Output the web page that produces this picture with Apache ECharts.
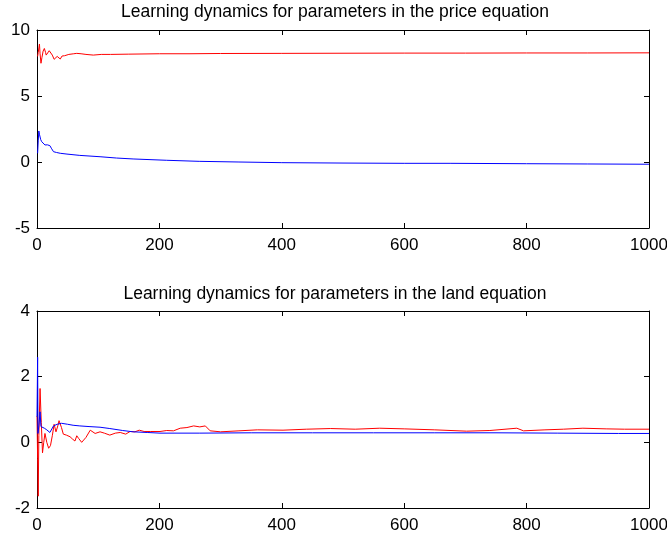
<!DOCTYPE html>
<html>
<head>
<meta charset="utf-8">
<script src="https://cdn.jsdelivr.net/npm/echarts@6/dist/echarts.min.js"></script>
<style>html,body{margin:0;padding:0;background:#fff}#c{width:667px;height:537px}</style>
</head>
<body>
<div id="c"></div>
<script>
const titles = ['Learning dynamics for parameters in the price equation', 'Learning dynamics for parameters in the land equation'];
const xTicks = [0, 200, 400, 600, 800, 1000];
const yTicksTop = [-5, 0, 5, 10];
const yTicksBottom = [-2, 0, 2, 4];

// Top panel (price equation)
const priceRedX = [1, 2, 4, 5, 6.5, 8, 10, 12, 14, 15, 17, 20, 22, 25, 28, 30, 33, 36, 38, 41, 45, 48, 52, 55, 60, 65, 72, 80, 92, 105, 120, 150, 200, 250, 300, 400, 500, 600, 700, 800, 900, 1000];
const priceRedY = [8.0, 8.3, 8.94, 8.2, 7.48, 7.9, 8.4, 8.6, 8.3, 8.1, 8.2, 8.43, 8.4, 8.1, 7.78, 7.85, 8.0, 7.85, 7.8, 8.03, 8.05, 8.1, 8.15, 8.12, 8.2, 8.23, 8.2, 8.15, 8.1, 8.15, 8.15, 8.17, 8.2, 8.2, 8.22, 8.23, 8.24, 8.25, 8.25, 8.26, 8.26, 8.27];
const priceBlueX = [1, 2, 3, 4, 6, 7.7, 10, 13, 17, 21, 24, 27, 32, 38, 49, 70, 103, 130, 157, 212, 265, 330, 400, 500, 600, 675, 800, 900, 1000];
const priceBlueY = [0.66, 1.6, 2.35, 2.1, 1.7, 1.54, 1.4, 1.29, 1.3, 1.24, 1.0, 0.78, 0.72, 0.66, 0.6, 0.5, 0.4, 0.3, 0.23, 0.13, 0.05, 0.0, -0.05, -0.08, -0.1, -0.1, -0.13, -0.15, -0.17];

// Bottom panel (land equation)
const landRedX = [0, 1, 2, 3, 5, 7, 9, 11, 13, 16, 19, 22, 25, 28, 31, 34, 36, 40, 43, 48, 54, 58, 62, 65, 68, 73, 80, 87, 95, 103, 110, 119, 128, 136, 145, 152, 160, 167, 175, 185, 201, 212, 223, 234, 245, 256, 266, 275, 283, 300, 330, 360, 402, 440, 480, 520, 560, 600, 650, 702, 740, 784, 795, 830, 860, 892, 930, 960, 1000];
const landRedY = [0.8, -0.5, -1.64, 0.2, 1.64, 0.6, -0.32, 0.0, 0.27, 0.0, -0.18, -0.1, 0.2, 0.55, 0.32, 0.5, 0.66, 0.45, 0.25, 0.22, 0.17, 0.1, 0.04, 0.2, 0.12, 0.0, 0.15, 0.37, 0.27, 0.32, 0.28, 0.22, 0.28, 0.3, 0.25, 0.33, 0.32, 0.37, 0.33, 0.33, 0.33, 0.36, 0.35, 0.43, 0.45, 0.5, 0.47, 0.5, 0.35, 0.32, 0.35, 0.38, 0.37, 0.4, 0.42, 0.4, 0.43, 0.41, 0.38, 0.34, 0.36, 0.43, 0.35, 0.38, 0.4, 0.43, 0.41, 0.4, 0.4];
const landBlueX = [0, 1, 1.6, 3, 5, 6.5, 9, 12, 16, 21, 24, 27, 33, 40, 50, 59, 70, 85, 103, 119, 140, 157, 180, 201, 266, 350, 450, 550, 650, 750, 850, 950, 1000];
const landBlueY = [0.78, 2.59, 0.27, 0.5, 0.93, 0.48, 0.45, 0.43, 0.38, 0.3, 0.35, 0.5, 0.55, 0.58, 0.55, 0.52, 0.5, 0.48, 0.46, 0.42, 0.36, 0.32, 0.3, 0.28, 0.28, 0.29, 0.29, 0.29, 0.29, 0.29, 0.28, 0.27, 0.27];

const zip = (xs, ys) => xs.map((x, i) => [x, ys[i]]);

const font = 'Liberation Sans, Arial, sans-serif';
const grids = [
  {left: 37, top: 30, right: 18, height: 198, outerBoundsMode: 'none', containLabel: false},
  {left: 37, top: 311, right: 18, height: 197, outerBoundsMode: 'none', containLabel: false}
];
function xAx(g, pos, show) {
  return {type: 'value', gridIndex: g, position: pos, min: xTicks[0], max: xTicks[xTicks.length - 1], interval: xTicks[1] - xTicks[0],
    axisLine: {show: true, onZero: false, lineStyle: {color: '#000', width: 1}},
    axisTick: {show: true, inside: true, length: 5, lineStyle: {color: '#000'}},
    axisLabel: {show: show, color: '#000', fontFamily: font, fontSize: 17, margin: 9, formatter: v => String(v), hideOverlap: false},
    splitLine: {show: false}};
}
function yAx(g, pos, ticks, show) {
  return {type: 'value', gridIndex: g, position: pos, min: ticks[0], max: ticks[ticks.length - 1], interval: ticks[1] - ticks[0],
    axisLine: {show: true, onZero: false, lineStyle: {color: '#000', width: 1}},
    axisTick: {show: true, inside: true, length: 5, lineStyle: {color: '#000'}},
    axisLabel: {show: show, color: '#000', fontFamily: font, fontSize: 17, margin: 7, formatter: v => String(v), hideOverlap: false},
    splitLine: {show: false}};
}
function line(xi, yi, data, color) {
  return {type: 'line', xAxisIndex: xi, yAxisIndex: yi, data: data, showSymbol: false, symbol: 'none',
    lineStyle: {color: color, width: 1}, itemStyle: {color: color}, animation: false};
}
const chart = echarts.init(document.getElementById('c'), null, {renderer: 'canvas'});
chart.setOption({
  backgroundColor: '#fff',
  animation: false,
  title: [
    {text: titles[0], left: 330, top: -2, textAlign: 'center', textStyle: {fontFamily: font, fontWeight: 'normal', fontSize: 17.5, color: '#000'}},
    {text: titles[1], left: 330, top: 280, textAlign: 'center', textStyle: {fontFamily: font, fontWeight: 'normal', fontSize: 17.5, color: '#000'}}
  ],
  grid: grids,
  xAxis: [xAx(0, 'bottom', true), xAx(0, 'top', false), xAx(1, 'bottom', true), xAx(1, 'top', false)],
  yAxis: [yAx(0, 'left', yTicksTop, true), yAx(0, 'right', yTicksTop, false), yAx(1, 'left', yTicksBottom, true), yAx(1, 'right', yTicksBottom, false)],
  series: [
    line(0, 0, zip(priceRedX, priceRedY), '#ff0000'),
    line(0, 0, zip(priceBlueX, priceBlueY), '#0000ff'),
    line(2, 2, zip(landRedX, landRedY), '#ff0000'),
    line(2, 2, zip(landBlueX, landBlueY), '#0000ff')
  ]
});
</script>
</body>
</html>
